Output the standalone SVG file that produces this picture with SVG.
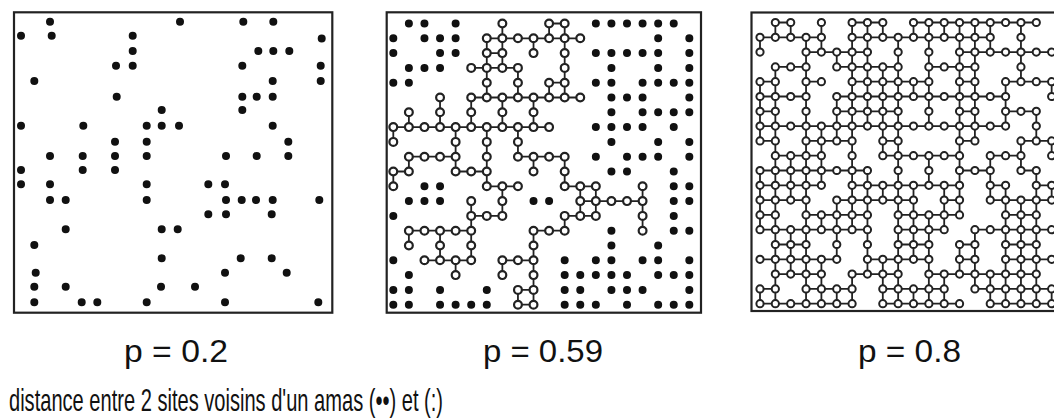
<svg xmlns="http://www.w3.org/2000/svg" width="1054" height="418" viewBox="0 0 1054 418">
<style>
.box{fill:none;stroke:#222;stroke-width:2.2}
.dot1{fill:none;stroke:#111;stroke-width:8;stroke-linecap:round}
.bond{fill:none;stroke:#222;stroke-width:1.8}
.b2{fill:none;stroke:#111;stroke-width:8;stroke-linecap:round;stroke-dasharray:0.02 15.56;stroke-dashoffset:0.01}
.r2{fill:none;stroke:#222;stroke-width:10;stroke-linecap:round;stroke-dasharray:0.02 15.56;stroke-dashoffset:0.01}
.h2{fill:none;stroke:#fff;stroke-width:5.6;stroke-linecap:round;stroke-dasharray:0.02 15.56;stroke-dashoffset:0.01}
.r3{fill:none;stroke:#222;stroke-width:9.2;stroke-linecap:round;stroke-dasharray:0.02 15.33;stroke-dashoffset:0.01}
.h3{fill:none;stroke:#fff;stroke-width:5.2;stroke-linecap:round;stroke-dasharray:0.02 15.33;stroke-dashoffset:0.01}
.lbl{font-family:"Liberation Sans",Arial,sans-serif;font-size:31px;fill:#111}
.cap{font-family:"Liberation Sans",Arial,sans-serif;font-size:32px;fill:#111}
</style>
<defs>
<path id="w2rows" d="M502.36 23.5h.02M549.1 23.5H564.68M486.78 38.3H580.26M486.78 53.1H502.36M533.52 53.1h.02M564.68 53.1h.02M471.2 67.9H517.94M564.68 67.9h.02M486.78 82.7h.02M517.94 82.7h.02M549.1 82.7H564.68M440.04 97.5h.02M471.2 97.5H580.26M408.88 112.3h.02M440.04 112.3h.02M471.2 112.3h.02M502.36 112.3h.02M533.52 112.3h.02M393.3 127.1H549.1M393.3 141.9h.02M455.62 141.9h.02M486.78 141.9h.02M517.94 141.9h.02M408.88 156.7H455.62M486.78 156.7h.02M517.94 156.7H564.68M393.3 171.5H408.88M455.62 171.5H486.78M533.52 171.5h.02M564.68 171.5h.02M393.3 186.3h.02M486.78 186.3H517.94M564.68 186.3H595.84M642.58 186.3h.02M471.2 201.1h.02M502.36 201.1h.02M580.26 201.1H642.58M471.2 215.9H502.36M564.68 215.9H595.84M642.58 215.9h.02M408.88 230.7H471.2M533.52 230.7H564.68M642.58 230.7h.02M408.88 245.5h.02M440.04 245.5h.02M471.2 245.5h.02M533.52 245.5h.02M424.46 260.3H471.2M502.36 260.3H533.52M455.62 275.1h.02M502.36 275.1h.02M533.52 275.1h.02M517.94 289.9H533.52M517.94 304.7H533.52"/>
<path id="w3rows" d="M775.35 22.5H790.7M821.4 22.5h.02M852.1 22.5H882.8M913.5 22.5H1036.3M760 37.3H821.4M852.1 37.3H990.25M1020.95 37.3h.02M760 52.1h.02M806.05 52.1H867.45M898.15 52.1h.02M928.85 52.1h.02M959.55 52.1H1051.65M775.35 66.9H806.05M836.75 66.9H898.15M928.85 66.9H974.9M1020.95 66.9h.02M760 81.7H775.35M806.05 81.7H821.4M852.1 81.7H928.85M959.55 81.7H974.9M1005.6 81.7H1051.65M760 96.5H806.05M836.75 96.5H1005.6M1051.65 96.5h.02M760 111.3H775.35M806.05 111.3h.02M836.75 111.3H898.15M928.85 111.3h.02M959.55 111.3H974.9M1005.6 111.3H1036.3M760 126.1H1005.6M1036.3 126.1h.02M760 140.9H775.35M806.05 140.9H852.1M882.8 140.9H898.15M959.55 140.9H974.9M1020.95 140.9H1051.65M775.35 155.7H821.4M852.1 155.7h.02M882.8 155.7H959.55M990.25 155.7H1020.95M1051.65 155.7h.02M760 170.5H867.45M898.15 170.5h.02M928.85 170.5h.02M959.55 170.5H990.25M1020.95 170.5H1036.3M760 185.3H821.4M852.1 185.3H959.55M990.25 185.3H1005.6M1036.3 185.3H1051.65M760 200.1H806.05M836.75 200.1H913.5M944.2 200.1H959.55M990.25 200.1H1051.65M760 214.9H775.35M806.05 214.9H867.45M898.15 214.9H959.55M1005.6 214.9H1036.3M760 229.7H867.45M898.15 229.7H944.2M974.9 229.7H1051.65M775.35 244.5H806.05M836.75 244.5h.02M867.45 244.5h.02M898.15 244.5H928.85M959.55 244.5H974.9M1005.6 244.5H1036.3M760 259.3H836.75M867.45 259.3H928.85M959.55 259.3H974.9M1005.6 259.3H1051.65M775.35 274.1H821.4M852.1 274.1H898.15M928.85 274.1H1036.3M760 288.9H775.35M806.05 288.9H852.1M882.8 288.9H944.2M974.9 288.9H1051.65M760 303.7H852.1M882.8 303.7H959.55M990.25 303.7H1051.65"/>
</defs>

<g id="panel-p02">
<rect class="box" x="14" y="12.3" width="318.3" height="300.4"/>
<path class="dot1" d="M50 21.7h.01M180 21.7h.01M243.3 21.7h.01M273.3 21.7h.01M21 35.7h.01M51.7 35.7h.01M132.7 35.7h.01M321.7 38.5h.01M132.7 51h.01M258.3 51h.01M273.3 51h.01M289.3 51h.01M116 65.7h.01M132.7 65.7h.01M242.3 65.7h.01M320.7 65.7h.01M34.3 81h.01M272.7 81h.01M320.7 81h.01M116.7 96.7h.01M242.3 96.7h.01M256.7 96.7h.01M272.7 96.7h.01M161.7 110h.01M242.3 110h.01M21 125.7h.01M83.3 125.7h.01M146.7 125.7h.01M161.7 125.7h.01M179 125.7h.01M272.7 125.7h.01M115 141.7h.01M146.7 141.7h.01M288.3 141.7h.01M50 156h.01M82.7 156h.01M115 156h.01M146.7 156h.01M226 156h.01M256.7 156h.01M288.3 156h.01M21 170h.01M82.7 170h.01M115 170h.01M21 184.3h.01M50 184.3h.01M146.7 184.3h.01M208.3 184.3h.01M225 184.3h.01M50 200h.01M65.7 200h.01M146.7 200h.01M226 200h.01M241.7 200h.01M256 200h.01M272.7 200h.01M319.3 200h.01M208.3 214.3h.01M226 214.3h.01M271.7 214.3h.01M65.7 229.3h.01M161.7 229.3h.01M177.7 229.3h.01M34.3 245h.01M161.7 258.3h.01M240.7 258.3h.01M271.7 258.3h.01M35.7 272.7h.01M225 272.7h.01M286.7 272.7h.01M34.3 286.7h.01M65.7 286.7h.01M161 286.7h.01M195 286.7h.01M34.3 302.3h.01M81.7 302.3h.01M97.3 302.3h.01M146.7 302.3h.01M225 302.3h.01M318.3 302.3h.01"/>
</g>

<g id="panel-p059">
<rect class="box" x="386.7" y="12.3" width="314.3" height="300.4"/>
<g id="bonds-p059">
<use href="#w2rows" class="bond"/>
<path class="bond" d="M393.3 127.1V141.9M393.3 171.5V186.3M408.88 112.3V127.1M408.88 156.7V171.5M408.88 230.7V245.5M440.04 97.5V127.1M440.04 230.7V260.3M455.62 127.1V171.5M455.62 260.3V275.1M471.2 97.5V127.1M471.2 201.1V260.3M486.78 38.3V97.5M486.78 127.1V186.3M502.36 23.5V67.9M502.36 97.5V127.1M502.36 186.3V215.9M502.36 260.3V275.1M517.94 67.9V97.5M517.94 127.1V156.7M517.94 289.9V304.7M533.52 38.3V53.1M533.52 97.5V127.1M533.52 156.7V171.5M533.52 230.7V304.7M549.1 23.5V38.3M549.1 82.7V97.5M564.68 23.5V97.5M564.68 156.7V186.3M564.68 215.9V230.7M580.26 186.3V215.9M595.84 186.3V215.9M642.58 186.3V230.7"/>
</g>
<use href="#w2rows" class="r2"/>
<use href="#w2rows" class="h2"/>
<path class="b2" d="M408.88 23.5H424.46M455.62 23.5h.02M595.84 23.5H673.74M393.3 38.3h.02M424.46 38.3H455.62M658.16 38.3h.02M689.32 38.3h.02M393.3 53.1h.02M440.04 53.1H455.62M595.84 53.1H658.16M689.32 53.1h.02M408.88 67.9H440.04M611.42 67.9h.02M658.16 67.9h.02M689.32 67.9h.02M393.3 82.7H408.88M595.84 82.7H611.42M642.58 82.7H689.32M611.42 97.5H642.58M689.32 97.5h.02M611.42 112.3h.02M642.58 112.3H689.32M595.84 127.1H642.58M673.74 127.1h.02M611.42 141.9h.02M658.16 141.9h.02M689.32 141.9h.02M595.84 156.7h.02M627 156.7H658.16M689.32 156.7h.02M611.42 171.5H627M673.74 171.5h.02M424.46 186.3H440.04M673.74 186.3H689.32M408.88 201.1H440.04M533.52 201.1H549.1M673.74 201.1H689.32M393.3 215.9h.02M673.74 215.9h.02M611.42 230.7h.02M673.74 230.7H689.32M611.42 245.5h.02M658.16 245.5h.02M393.3 260.3h.02M564.68 260.3h.02M595.84 260.3H611.42M642.58 260.3H658.16M689.32 260.3h.02M408.88 275.1h.02M564.68 275.1H627M658.16 275.1H689.32M393.3 289.9H408.88M440.04 289.9h.02M486.78 289.9h.02M564.68 289.9H580.26M611.42 289.9H642.58M689.32 289.9h.02M393.3 304.7H408.88M440.04 304.7H486.78M564.68 304.7H595.84M627 304.7h.02M658.16 304.7H689.32"/>
</g>

<g id="panel-p08">
<rect class="box" x="751.5" y="12.5" width="330" height="298.5"/>
<g id="bonds-p08">
<use href="#w3rows" class="bond"/>
<path class="bond" d="M760 37.3V52.1M760 81.7V140.9M760 170.5V229.7M760 288.9V303.7M775.35 22.5V37.3M775.35 66.9V303.7M790.7 22.5V37.3M790.7 155.7V200.1M790.7 229.7V274.1M806.05 37.3V303.7M821.4 22.5V52.1M821.4 126.1V185.3M821.4 214.9V229.7M821.4 259.3V303.7M836.75 52.1V66.9M836.75 96.5V140.9M836.75 200.1V259.3M836.75 288.9V303.7M852.1 22.5V229.7M852.1 274.1V303.7M867.45 22.5V126.1M867.45 170.5V274.1M882.8 22.5V37.3M882.8 66.9V155.7M882.8 185.3V200.1M882.8 259.3V303.7M898.15 37.3V303.7M913.5 22.5V37.3M913.5 81.7V96.5M913.5 185.3V259.3M913.5 288.9V303.7M928.85 22.5V126.1M928.85 155.7V185.3M928.85 214.9V303.7M944.2 22.5V37.3M944.2 185.3V229.7M944.2 274.1V303.7M959.55 22.5V214.9M959.55 244.5V274.1M974.9 22.5V140.9M974.9 229.7V288.9M990.25 22.5V52.1M990.25 155.7V200.1M990.25 274.1V303.7M1005.6 81.7V126.1M1005.6 185.3V303.7M1020.95 22.5V81.7M1020.95 140.9V170.5M1020.95 200.1V303.7M1036.3 111.3V140.9M1036.3 170.5V303.7M1051.65 81.7V96.5M1051.65 140.9V155.7M1051.65 185.3V200.1M1051.65 288.9V303.7"/>
</g>
<use href="#w3rows" class="r3"/>
<use href="#w3rows" class="h3"/>
</g>

<g id="labels">
<text class="lbl" x="124" y="362" textLength="104" lengthAdjust="spacingAndGlyphs">p = 0.2</text>
<text class="lbl" x="483" y="362" textLength="120" lengthAdjust="spacingAndGlyphs">p = 0.59</text>
<text class="lbl" x="858" y="362" textLength="103" lengthAdjust="spacingAndGlyphs">p = 0.8</text>
<text class="cap" x="9" y="411" textLength="434" lengthAdjust="spacingAndGlyphs">distance entre 2 sites voisins d'un amas  (••) et (:)</text>
</g>
</svg>
